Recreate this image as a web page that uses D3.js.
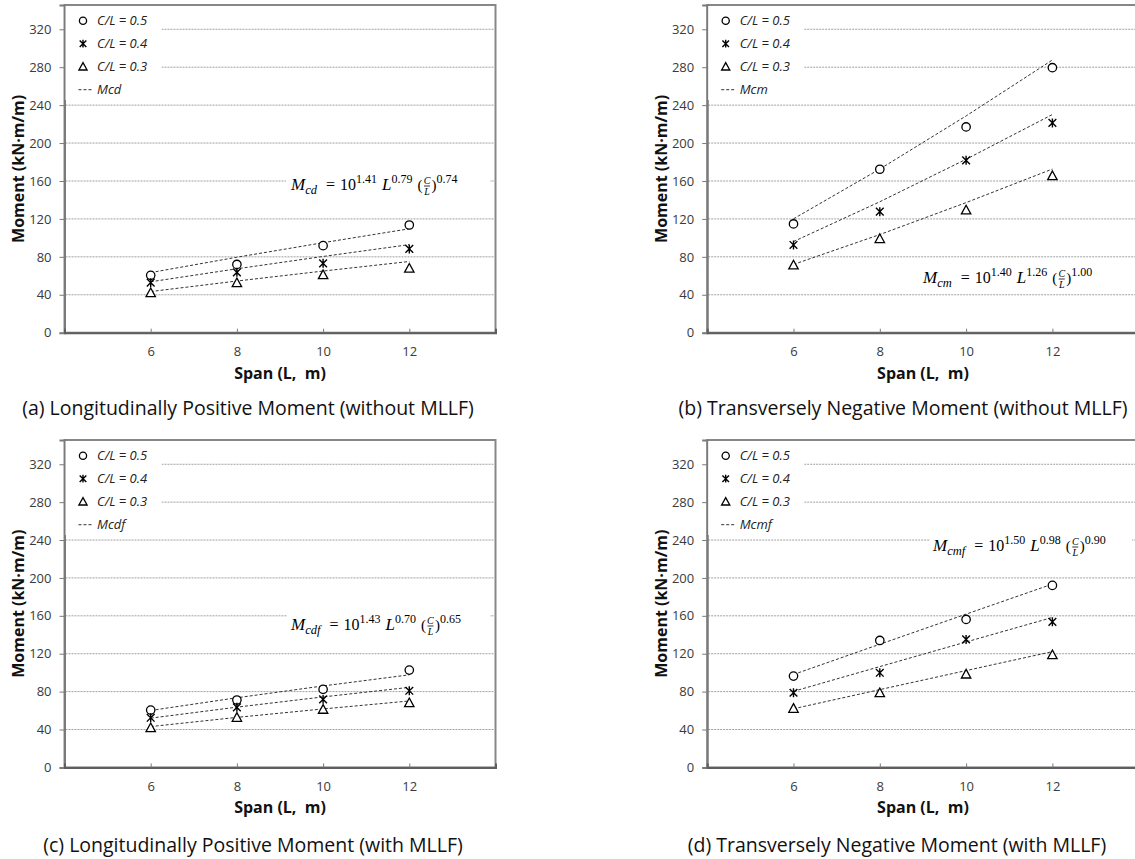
<!DOCTYPE html>
<html>
<head>
<meta charset="utf-8">
<script src="https://cdn.jsdelivr.net/npm/d3@7"></script>
<style>
  body { margin: 0; background: #fff; }
  svg { display: block; }
</style>
</head>
<body>
<svg id="fig" width="1135" height="859"></svg>
<script>
// ---- data ----
const spans = [6, 8, 10, 12];
const xTickValues = [6, 8, 10, 12];
const yTickValues = [0, 40, 80, 120, 160, 200, 240, 280, 320];
const gridValues = [40, 80, 120, 160, 200, 240, 280, 320];
const ratioLabels = ["C/L = 0.5", "C/L = 0.4", "C/L = 0.3"];

// (a) longitudinally positive moment, without MLLF
const mcdObs05 = [60.5, 72.0, 91.8, 113.6];
const mcdObs04 = [52.7, 63.7, 73.2, 88.3];
const mcdObs03 = [42.2, 52.7, 61.2, 68.0];
const mcdFit05 = [63.4, 79.6, 94.9, 109.6];
const mcdFit04 = [53.7, 67.4, 80.4, 92.9];
const mcdFit03 = [43.4, 54.5, 65.0, 75.1];

// (b) transversely negative moment, without MLLF
const mcmObs05 = [114.7, 172.4, 217.0, 279.5];
const mcmObs04 = [92.5, 127.6, 181.8, 221.2];
const mcmObs03 = [71.4, 99.2, 129.4, 165.6];
const mcmFit05 = [120.1, 172.6, 228.6, 287.6];
const mcmFit04 = [96.1, 138.1, 182.9, 230.1];
const mcmFit03 = [72.0, 103.5, 137.2, 172.6];

// (c) longitudinally positive moment, with MLLF
const mcdfObs05 = [60.5, 71.1, 82.4, 102.7];
const mcdfObs04 = [52.4, 63.4, 71.8, 80.9];
const mcdfObs03 = [41.9, 52.8, 61.3, 68.3];
const mcdfFit05 = [60.1, 73.5, 86.0, 97.7];
const mcdfFit04 = [52.0, 63.6, 74.4, 84.5];
const mcdfFit03 = [43.1, 52.8, 61.7, 70.1];

// (d) transversely negative moment, with MLLF
const mcmfObs05 = [96.4, 134.0, 156.2, 192.1];
const mcmfObs04 = [78.8, 99.9, 135.1, 153.7];
const mcmfObs03 = [62.3, 78.8, 98.5, 118.9];
const mcmfFit05 = [98.1, 130.0, 161.8, 193.5];
const mcmfFit04 = [80.3, 106.4, 132.4, 158.3];
const mcmfFit03 = [61.9, 82.1, 102.2, 122.2];

const fitNames = ["Mcd", "Mcm", "Mcdf", "Mcmf"];
const captions = [
  "(a) Longitudinally Positive Moment (without MLLF)",
  "(b) Transversely Negative Moment (without MLLF)",
  "(c) Longitudinally Positive Moment (with MLLF)",
  "(d) Transversely Negative Moment (with MLLF)"
];
const formulaSubs = ["cd", "cm", "cdf", "cmf"];
const formulaExp10 = ["1.41", "1.40", "1.43", "1.50"];
const formulaExpL = ["0.79", "1.26", "0.70", "0.98"];
const formulaExpC = ["0.74", "1.00", "0.65", "0.90"];

// ---- layout ----
const SANS = "'Open Sans', 'Noto Sans', sans-serif";
const SERIF = "'Liberation Serif', 'DejaVu Serif', serif";

const layout = [
  { left: 64.5, right: 495.5, base: 332.7, top: 5,
    captionX: 248, captionY: 415,
    formula: { x: 291, y: 190, box: [286, 167, 204, 33] } },
  { left: 707.2, right: 1138.7, base: 332.7, top: 5,
    captionX: 903, captionY: 415,
    formula: { x: 923, y: 283, box: [918, 263, 180, 30] } },
  { left: 64.5, right: 495.5, base: 767.4, top: 440,
    captionX: 253, captionY: 852,
    formula: { x: 291, y: 630, box: [287, 605, 203, 35] } },
  { left: 707.2, right: 1138.7, base: 767.4, top: 440,
    captionX: 897, captionY: 852,
    formula: { x: 933, y: 551, box: [930, 527, 202, 35] } }
];

const panelData = [
  { obs: [mcdObs05, mcdObs04, mcdObs03], fit: [mcdFit05, mcdFit04, mcdFit03] },
  { obs: [mcmObs05, mcmObs04, mcmObs03], fit: [mcmFit05, mcmFit04, mcmFit03] },
  { obs: [mcdfObs05, mcdfObs04, mcdfObs03], fit: [mcdfFit05, mcdfFit04, mcdfFit03] },
  { obs: [mcmfObs05, mcmfObs04, mcmfObs03], fit: [mcmfFit05, mcmfFit04, mcmfFit03] }
];

const svg = d3.select("#fig");

// marker shapes: circle, asterisk, triangle (s = half size)
function drawMarker(g, kind, x, y, s) {
  if (kind === 0) {
    g.append("circle").attr("cx", x).attr("cy", y).attr("r", s)
      .attr("fill", "#fff").attr("stroke", "#000").attr("stroke-width", 1.3);
  } else if (kind === 1) {
    const d = s * 0.92;
    g.append("path")
      .attr("d", `M${x - d},${y - d}L${x + d},${y + d}M${x - d},${y + d}L${x + d},${y - d}M${x},${y - d - 0.6}L${x},${y + d + 0.6}`)
      .attr("stroke", "#000").attr("stroke-width", 1.4).attr("fill", "none");
  } else {
    g.append("path")
      .attr("d", `M${x},${y - s - 0.5}L${x + s + 0.5},${y + s - 0.3}L${x - s - 0.5},${y + s - 0.3}Z`)
      .attr("fill", "#fff").attr("stroke", "#000").attr("stroke-width", 1.3);
  }
}

function drawFormula(g, f, sub, e10, eL, eC) {
  let cx = f.x;
  const y = f.y;
  function piece(txt, size, dy, italic) {
    const t = g.append("text")
      .attr("x", cx).attr("y", y + dy)
      .attr("font-family", SERIF)
      .attr("font-size", size)
      .attr("font-style", italic ? "italic" : "normal")
      .attr("fill", "#000")
      .text(txt);
    cx += t.node().getComputedTextLength();
    return t;
  }
  piece("M", 17, 0, true);
  piece(sub, 12.5, 4, true);
  cx += 9;
  piece("=", 16, 0, false);
  cx += 5;
  piece("10", 16, 0, false);
  piece(e10, 12, -7, false);
  cx += 5;
  piece("L", 17, 0, true);
  piece(eL, 12, -7, false);
  cx += 5;
  piece("(", 15, 0, false);
  const fx = cx + 0.5;
  g.append("text").attr("x", fx + 4).attr("y", y - 6)
    .attr("text-anchor", "middle").attr("font-family", SERIF)
    .attr("font-size", 10).attr("font-style", "italic").text("C");
  g.append("line").attr("x1", fx + 1).attr("x2", fx + 7)
    .attr("y1", y - 4).attr("y2", y - 4).attr("stroke", "#000").attr("stroke-width", 0.8);
  g.append("text").attr("x", fx + 4).attr("y", y + 5)
    .attr("text-anchor", "middle").attr("font-family", SERIF)
    .attr("font-size", 10).attr("font-style", "italic").text("L");
  cx += 9;
  piece(")", 15, 0, false);
  piece(eC, 12, -7, false);
}

layout.forEach((L, i) => {
  const data = panelData[i];
  const g = svg.append("g");

  const x = d3.scaleLinear().domain([4, 14]).range([L.left, L.right]);
  const y = d3.scaleLinear().domain([0, 345.6]).range([L.base, L.top]);

  // plot frame
  g.append("rect")
    .attr("x", L.left).attr("y", L.top)
    .attr("width", L.right - L.left).attr("height", L.base - L.top)
    .attr("fill", "#fff").attr("stroke", "#878787").attr("stroke-width", 2);

  // horizontal gridlines
  g.append("g").selectAll("line").data(gridValues).join("line")
    .attr("x1", L.left + 1).attr("x2", L.right - 1)
    .attr("y1", d => y(d)).attr("y2", d => y(d))
    .attr("stroke", "#a0a0a0").attr("stroke-width", 1)
    .attr("stroke-dasharray", "2,1");

  // y axis
  const yAxis = d3.axisLeft(y).tickValues(yTickValues).tickSize(5).tickPadding(8);
  const ya = g.append("g").attr("transform", `translate(${L.left},0)`).call(yAxis);
  ya.select(".domain").attr("stroke", "#7a7a7a").attr("stroke-width", 2);
  ya.selectAll(".tick line").attr("stroke", "#7a7a7a");
  ya.selectAll(".tick text").attr("font-family", SANS).attr("font-size", 13)
    .attr("fill", "#3a3a3a");

  // x axis (ticks point into the plot)
  const xAxis = d3.axisBottom(x).tickValues(xTickValues).tickSize(-4).tickPadding(14)
    .tickFormat(d3.format("d"));
  const xa = g.append("g").attr("transform", `translate(0,${L.base})`).call(xAxis);
  xa.select(".domain").attr("stroke", "#5e5e5e").attr("stroke-width", 2);
  xa.selectAll(".tick line").attr("stroke", "#7a7a7a");
  xa.selectAll(".tick text").attr("font-family", SANS).attr("font-size", 13)
    .attr("fill", "#3a3a3a");

  // legend block
  const lg = g.append("g");
  lg.append("rect").attr("x", L.left + 1).attr("y", L.top + 1)
    .attr("width", 96).attr("height", 94).attr("fill", "#fff");
  ratioLabels.forEach((lab, k) => {
    const ry = L.top + 15.7 + k * 23;
    drawMarker(lg, k, L.left + 18.5, ry, 3.6);
    lg.append("text").attr("x", L.left + 32.5).attr("y", ry + 4.5)
      .attr("font-family", SANS).attr("font-size", 13).attr("font-style", "italic")
      .attr("fill", "#222").text(lab);
  });
  const fy = L.top + 15.7 + 3 * 23;
  lg.append("line").attr("x1", L.left + 14).attr("x2", L.left + 29)
    .attr("y1", fy).attr("y2", fy).attr("stroke", "#333")
    .attr("stroke-width", 1).attr("stroke-dasharray", "3,2");
  lg.append("text").attr("x", L.left + 32.5).attr("y", fy + 4.5)
    .attr("font-family", SANS).attr("font-size", 13).attr("font-style", "italic")
    .attr("fill", "#222").text(fitNames[i]);

  // formula label
  const fb = L.formula.box;
  g.append("rect").attr("x", fb[0]).attr("y", fb[1]).attr("width", fb[2]).attr("height", fb[3])
    .attr("fill", "#fff");
  drawFormula(g, L.formula, formulaSubs[i], formulaExp10[i], formulaExpL[i], formulaExpC[i]);

  // fitted power-law lines
  const line = d3.line().x((d, j) => x(spans[j])).y(d => y(d));
  data.fit.forEach(series => {
    g.append("path").attr("d", line(series))
      .attr("fill", "none").attr("stroke", "#333").attr("stroke-width", 1)
      .attr("stroke-dasharray", "3,2");
  });

  // observed values
  data.obs.forEach((series, k) => {
    series.forEach((v, j) => drawMarker(g, k, x(spans[j]), y(v), 4.2));
  });

  // axis titles
  g.append("text")
    .attr("transform", `translate(${L.left - 46},${(L.top + L.base) / 2}) rotate(-90)`)
    .attr("text-anchor", "middle").attr("dy", "0.35em")
    .attr("font-family", SANS).attr("font-size", 16).attr("font-weight", "bold")
    .attr("fill", "#111").text("Moment (kN·m/m)");
  g.append("text")
    .attr("x", x(9))
    .attr("y", L.base + 46)
    .attr("text-anchor", "middle")
    .attr("font-family", SANS).attr("font-size", 16).attr("font-weight", "bold")
    .attr("fill", "#111").text("Span (L,  m)")
    .style("white-space", "pre");

  // caption
  g.append("text").attr("x", L.captionX).attr("y", L.captionY)
    .attr("text-anchor", "middle")
    .attr("font-family", SANS).attr("font-size", 19.5)
    .attr("fill", "#111").text(captions[i]);
});
</script>
</body>
</html>
